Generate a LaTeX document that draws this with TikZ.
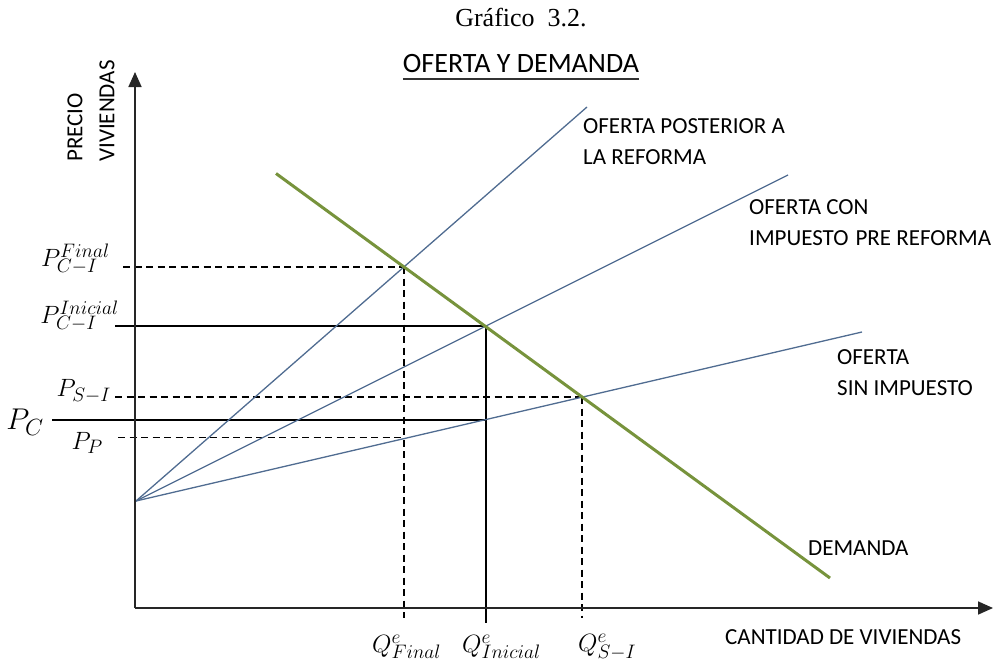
\RequirePackage{fix-cm}
\documentclass[tikz,border=0pt]{standalone}
\usepackage{fontspec}
\newfontfamily\calib{Carlito}
\newfontfamily\grafont{Liberation Serif}
\usetikzlibrary{arrows.meta}
\renewcommand{\defaultscriptratio}{.78}
\renewcommand{\defaultscriptscriptratio}{.6}
\definecolor{supplyc}{RGB}{80,108,145}
\definecolor{demandc}{RGB}{119,147,60}
\tikzset{
  axisline/.style={line width=1.7pt, draw=black!85, -{Triangle[length=15pt,width=13pt]}},
  supplyline/.style={draw=supplyc, line width=1.3pt},
  demandline/.style={draw=demandc, line width=3pt},
  guide/.style={draw=black, line width=1.4pt},
  guidedash/.style={guide, dash pattern=on 7pt off 4.5pt},
  lbl/.style={font=\calib\fontsize{23}{31}\selectfont, inner sep=0pt, anchor=west, align=left},
  mlbl/.style={font=\fontsize{25}{30}\selectfont, inner sep=0pt},
}
\begin{document}
\begin{tikzpicture}[x=1pt,y=-1pt]
\useasboundingbox (0,0) rectangle (995,664);
% key points
\coordinate (O) at (135,608);
\coordinate (Ytip) at (135,72);
\coordinate (Xtip) at (993,608);
\coordinate (S) at (136,501);
\coordinate (E1) at (404,267);
\coordinate (E2) at (486,326);
\coordinate (E3) at (582,397);
\coordinate (B1) at (404,437.5);
\coordinate (B2) at (486,420);
\coordinate (SpostEnd) at (587,107);
\coordinate (SconEnd) at (788,175);
\coordinate (SsinEnd) at (862,332);
\coordinate (D1) at (276,173.5);
\coordinate (D2) at (830,578);
\coordinate (Lf) at (123,267);
\coordinate (Li) at (115,326);
\coordinate (Ls) at (115,397);
\coordinate (Lc) at (52,420);
\coordinate (Lp) at (118,437.5);
\coordinate (V1) at (404,618);
\coordinate (V2) at (486,623);
\coordinate (V3) at (582,618);
% guides
\draw[guidedash] (Lf) -- (E1);
\draw[guide] (Li) -- (E2);
\draw[guidedash] (Ls) -- (E3);
\draw[guide] (Lc) -- (B2);
\draw[guidedash] (Lp) -- (B1);
\draw[guidedash] (E1) -- (V1);
\draw[guide] (E2) -- (V2);
\draw[guidedash] (E3) -- (V3);
% supply curves
\draw[supplyline] (S) -- (SpostEnd);
\draw[supplyline] (S) -- (SconEnd);
\draw[supplyline] (S) -- (SsinEnd);
% demand
\draw[demandline] (D1) -- (D2);
% axes
\draw[axisline] (O) -- (Ytip);
\draw[axisline] (O) -- (Xtip);
% titles
\node[font=\grafont\fontsize{26}{30}\selectfont, inner sep=0pt] (graf) at (521,18) {Gráfico\ \ 3.2.};
\node[font=\calib\fontsize{28}{32}\selectfont, inner sep=0pt, anchor=base] (title) at (521,72) {OFERTA Y DEMANDA};
\draw[line width=1.6pt, black!80] ([yshift=-7pt]title.base west) -- ([yshift=-7pt]title.base east);
% axis labels
\node[lbl, rotate=90] (precio) at (75,162) {PRECIO};
\node[lbl, rotate=90] (viv) at (107,162) {VIVIENDAS};
\node[lbl] (cant) at (725,637) {CANTIDAD DE VIVIENDAS};
% curve labels
\node[lbl] (lpost) at (583,141.5) {OFERTA POSTERIOR A\\LA REFORMA};
\node[lbl] (lcon) at (749,222.5) {OFERTA CON\\IMPUESTO\hspace{0.08em} PRE REFORMA};
\node[lbl] (lsin) at (837,372.5) {OFERTA\\SIN IMPUESTO};
\node[lbl] (ldem) at (808,548) {DEMANDA};
% price labels
\node[mlbl, anchor=east] (pfinal) at (110,259) {$P^{Final}_{C-I}$};
\node[mlbl, anchor=east] (pinicial) at (119,316) {$P^{Inicial}_{C-I}$};
\node[mlbl, anchor=east] (psi) at (111,391) {$P_{S-I}$};
\node[font=\fontsize{30}{34}\selectfont, inner sep=0pt, anchor=east] (pc) at (44,422) {$P_C$};
\node[mlbl, anchor=east] (pp) at (103,443) {$P_P$};
% quantity labels
\node[mlbl, anchor=west] (qfinal) at (372,647) {$Q^{e}_{Final}$};
\node[mlbl, anchor=west] (qinicial) at (462,647) {$Q^{e}_{Inicial}$};
\node[mlbl, anchor=west] (qsi) at (578,647) {$Q^{e}_{S-I}$};
\end{tikzpicture}
\end{document}
